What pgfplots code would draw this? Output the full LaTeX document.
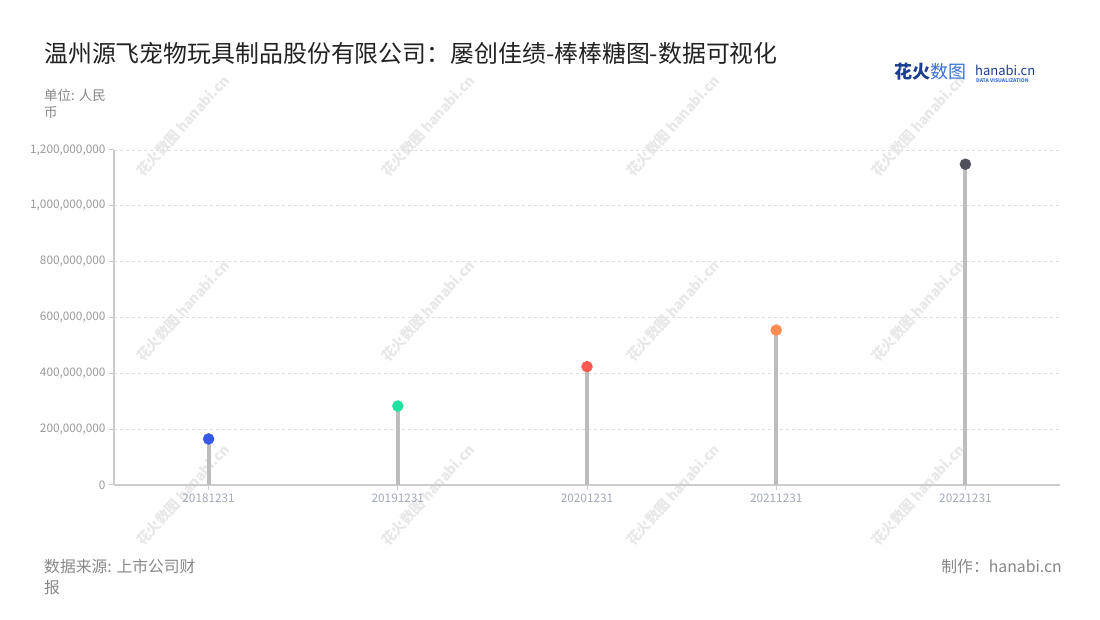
\documentclass[border=0pt]{standalone}
\usepackage{pgfplots}
\pgfplotsset{compat=1.18}
\usepackage{fontspec}
\setmainfont{Noto Sans CJK SC}

\definecolor{cblue}{HTML}{3658E6}
\definecolor{cgreen}{HTML}{1DE2A2}
\definecolor{cred}{HTML}{FF5A52}
\definecolor{corange}{HTML}{FF8C50}
\definecolor{cdark}{HTML}{50505C}
\definecolor{stemgray}{HTML}{BDBDBD}
\definecolor{axisgray}{HTML}{CCCCCC}
\definecolor{gridgray}{HTML}{DDDDDD}
\definecolor{ticktext}{HTML}{9A9A9A}
\definecolor{xticktext}{HTML}{A4AABB}
\definecolor{titlecol}{HTML}{222222}
\definecolor{notecol}{HTML}{888888}
\definecolor{logonavy}{HTML}{1D3E8E}
\definecolor{logoblue}{HTML}{3A6FD8}
\definecolor{wmark}{HTML}{E8E8E8}

\begin{document}
\begin{tikzpicture}[x=1pt,y=1pt]
\fill[white] (0,0) rectangle (1100,620);

% faint watermarks
\foreach \cx in {183,428,673,918}{
  \foreach \cy in {126,311,495}{
    \node[rotate=48, text=wmark, font=\fontsize{14}{16}\selectfont\bfseries]
      at (\cx, 620-\cy) {花火数图 hanabi.cn};
  }
}

\begin{axis}[
    at={(114pt,135pt)}, anchor=south west,
    scale only axis,
    width=946pt, height=335pt,
    xmin=-0.5, xmax=4.5,
    ymin=0, ymax=1200000000,
    xtick={0,1,2,3,4},
    xticklabels={20181231,20191231,20201231,20211231,20221231},
    ytick={0,200000000,400000000,600000000,800000000,1000000000,1200000000},
    scaled y ticks=false,
    /pgf/number format/fixed,
    /pgf/number format/precision=0,
    /pgf/number format/1000 sep={,},
    /pgf/number format/assume math mode=true,
    y tick label style={text=ticktext, font=\fontsize{11.8}{14}\selectfont},
    x tick label style={text=xticktext, font=\fontsize{11.8}{14}\selectfont},
    axis x line*=bottom, axis y line*=left,
    axis line style={draw=axisgray, line width=1.3pt},
    tick style={draw=axisgray, line width=1pt},
    tick align=outside,
    major tick length=5pt,
    ymajorgrids=true,
    grid style={dashed, draw=gridgray, line width=0.8pt},
    clip=false,
]
\addplot[ycomb, line width=4pt, color=stemgray] coordinates {
    (0,165000000) (1,283000000) (2,424000000) (3,555000000) (4,1149000000)
};
\addplot[scatter, only marks, mark=*, mark size=5.5pt,
    scatter src=explicit symbolic,
    scatter/classes={
        a={mark=*, fill=cblue, draw=cblue},
        b={mark=*, fill=cgreen, draw=cgreen},
        c={mark=*, fill=cred, draw=cred},
        d={mark=*, fill=corange, draw=corange},
        e={mark=*, fill=cdark, draw=cdark}}]
    coordinates {
    (0,165000000)[a] (1,283000000)[b] (2,424000000)[c] (3,555000000)[d] (4,1149000000)[e]
};
\end{axis}

% title
\node[anchor=base west, text=titlecol, font=\fontsize{23.9}{27}\selectfont, inner sep=0]
  at (44, 620-63) {温州源飞宠物玩具制品股份有限公司：屡创佳绩-棒棒糖图-数据可视化};

% unit
\node[anchor=base west, text=notecol, font=\fontsize{13.5}{16}\selectfont, inner sep=0]
  at (44, 620-101) {单位: 人民};
\node[anchor=base west, text=notecol, font=\fontsize{13.5}{16}\selectfont, inner sep=0]
  at (44, 620-118) {币};

% logo
\node[anchor=base west, inner sep=0, font=\fontsize{18}{20}\selectfont]
  at (894, 620-79) {\textcolor{logonavy}{\bfseries 花火}\textcolor{logoblue}{数图}};
\node[anchor=base west, inner sep=0, text=logonavy, font=\fontsize{13}{14}\selectfont]
  at (975, 620-75.5) {hanabi.cn};
\node[anchor=base west, inner sep=0, text=logoblue, font=\fontsize{5}{5}\selectfont\bfseries]
  at (976, 620-83) {DATA VISUALIZATION};

% footer
\node[anchor=base west, text=notecol, font=\fontsize{15.8}{18}\selectfont, inner sep=0]
  at (44, 620-573) {数据来源: 上市公司财};
\node[anchor=base west, text=notecol, font=\fontsize{15.8}{18}\selectfont, inner sep=0]
  at (44, 620-594) {报};
\node[anchor=base east, text=notecol, font=\fontsize{15.8}{18}\selectfont, inner sep=0]
  at (1062, 620-573) {制作：hanabi.cn};
\end{tikzpicture}
\end{document}
